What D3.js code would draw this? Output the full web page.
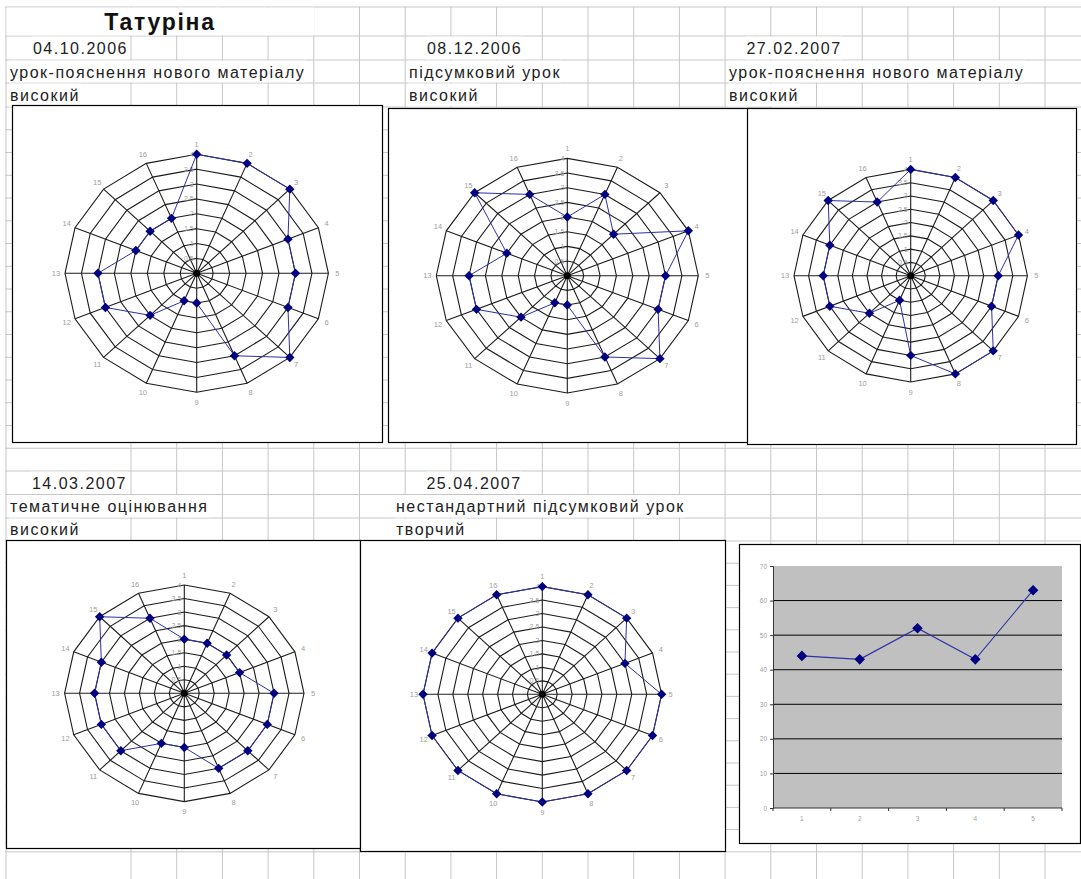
<!DOCTYPE html>
<html>
<head>
<meta charset="utf-8">
<script src="https://cdn.jsdelivr.net/npm/d3@7"></script>
<style>
  body { margin: 0; background: #fff; }
  svg { display: block; font-family: "Liberation Sans", Arial, sans-serif; }
</style>
</head>
<body>
<svg id="sheet" width="1081" height="879"></svg>
<script>
// ---- data ----
let pupil = "Татуріна";
let lessonDates = ["04.10.2006", "08.12.2006", "27.02.2007", "14.03.2007", "25.04.2007"];
let lessonTypes = ["урок-пояснення нового матеріалу", "підсумковий урок", "урок-пояснення нового матеріалу", "тематичне оцінювання", "нестандартний підсумковий урок"];
let lessonLevels = ["високий", "високий", "високий", "високий", "творчий"];

let criteria = [1, 2, 3, 4, 5, 6, 7, 8, 9, 10, 11, 12, 13, 14, 15, 16];
let radarTicks = [0.5, 1, 1.5, 2, 2.5, 3, 3.5, 4];

let scores1 = [4, 4, 4, 3, 3, 3, 4, 3, 1, 1, 2, 3, 3, 2, 2, 2];
let scores2 = [2, 3, 2, 4, 3, 3, 4, 3, 1, 1, 2, 3, 3, 2, 4, 3];
let scores3 = [4, 4, 4, 4, 3, 3, 4, 4, 3, 1, 2, 3, 3, 3, 4, 3];
let scores4 = [2, 2, 2, 2, 3, 3, 3, 3, 2, 2, 3, 3, 3, 3, 4, 3];
let scores5 = [4, 4, 4, 3, 4, 4, 4, 4, 4, 4, 4, 4, 4, 4, 4, 4];

let totalLabels = [1, 2, 3, 4, 5];
let totals = [44, 43, 52, 43, 63];
let totalTicks = [0, 10, 20, 30, 40, 50, 60, 70];

// ---- layout ----
let svg = d3.select('#sheet');
let gridColor = '#c6c6c6';

let colLines = [6, 131].concat(d3.range(1, 22).map(k => 131 + k * 45.7));
let rowLines = [7, 36, 60, 83, 107]
    .concat(d3.range(1, 16).map(k => 107 + k * 22.75))
    .concat([471, 494.5, 518, 541])
    .concat(d3.range(1, 15).map(k => 541 + k * 22.2));

let headerRows = [
    { dateY: 53.5, typeY: 77.5, levelY: 100.5, top: [36, 60, 83], bottom: [60, 83, 107] },
    { dateY: 488.5, typeY: 511.5, levelY: 534.5, top: [471, 494.5, 518], bottom: [494.5, 518, 541] }
];
let headerPlaces = [
    { row: 0, dateX: 128, dateAnchor: 'end', textX: 10 },
    { row: 0, dateX: 474.5, dateAnchor: 'middle', textX: 409 },
    { row: 0, dateX: 794, dateAnchor: 'middle', textX: 729 },
    { row: 1, dateX: 127, dateAnchor: 'end', textX: 10 },
    { row: 1, dateX: 474, dateAnchor: 'middle', textX: 396 }
];

let radarFrames = [
    { x0: 12, y0: 105, x1: 382, y1: 442, cx: 196.7, cy: 273.3, rx: 131.7, ry: 119 },
    { x0: 388, y0: 108, x1: 770, y1: 442, cx: 567.3, cy: 275.7, rx: 131, ry: 117.3 },
    { x0: 747, y0: 108, x1: 1076, y1: 444, cx: 910.7, cy: 275.7, rx: 116.7, ry: 106.3 },
    { x0: 6, y0: 540, x1: 360, y1: 848, cx: 184.3, cy: 693.3, rx: 119.7, ry: 108.3 },
    { x0: 360, y0: 540, x1: 725, y1: 851, cx: 542.3, cy: 694.3, rx: 119.3, ry: 107.7 }
];
let lineFrame = { x0: 739, y0: 544, x1: 1080, y1: 843, left: 773, right: 1062, top: 566, bottom: 808 };

// ---- spreadsheet grid ----
let drawGrid = () => {
    let grid = svg.append('g');
    grid.selectAll('line.v')
        .data(colLines)
        .enter()
        .append('line')
        .attr('x1', d => d).attr('x2', d => d)
        .attr('y1', 7).attr('y2', 879)
        .attr('stroke', gridColor);
    grid.selectAll('line.h')
        .data(rowLines)
        .enter()
        .append('line')
        .attr('x1', 5).attr('x2', 1081)
        .attr('y1', d => d).attr('y2', d => d)
        .attr('stroke', gridColor);
};

let textStyle = (sel) => sel
    .style('font-size', '16px')
    .style('letter-spacing', '1.5px')
    .attr('fill', '#222');

// white patch behind overflowing text, hides the cell borders like Excel does
let clearBehind = (textNode, top, bottom) => {
    let box = textNode.node().getBBox();
    svg.insert('rect', () => textNode.node())
        .attr('x', box.x - 1)
        .attr('y', top + 0.6)
        .attr('width', box.width + 2)
        .attr('height', bottom - top - 1.2)
        .attr('fill', '#fff');
};

let drawHeaders = () => {
    svg.append('rect')
        .attr('x', 6.6).attr('y', 7.6).attr('width', 308).attr('height', 27.8)
        .attr('fill', '#fff');
    svg.append('text')
        .text(pupil)
        .attr('x', 160).attr('y', 30)
        .attr('text-anchor', 'middle')
        .style('font-size', '23px')
        .style('font-weight', 'bold')
        .style('letter-spacing', '1.7px')
        .attr('fill', '#111');

    headerPlaces.forEach((place, i) => {
        let row = headerRows[place.row];
        let date = svg.append('text')
            .text(lessonDates[i])
            .attr('x', place.dateX).attr('y', row.dateY)
            .attr('text-anchor', place.dateAnchor);
        textStyle(date);
        clearBehind(date, row.top[0], row.bottom[0]);

        let type = svg.append('text')
            .text(lessonTypes[i])
            .attr('x', place.textX).attr('y', row.typeY);
        textStyle(type);
        clearBehind(type, row.top[1], row.bottom[1]);

        let level = svg.append('text')
            .text(lessonLevels[i])
            .attr('x', place.textX).attr('y', row.levelY);
        textStyle(level);
        clearBehind(level, row.top[2], row.bottom[2]);
    });
};

// ---- radar charts ----
let drawRadar = (frame, scores) => {
    let g = svg.append('g');

    g.append('rect')
        .attr('x', frame.x0 + 0.5).attr('y', frame.y0 + 0.5)
        .attr('width', frame.x1 - frame.x0).attr('height', frame.y1 - frame.y0)
        .attr('fill', '#fff')
        .attr('stroke', '#000')
        .attr('stroke-width', 1.2);

    let rScaleX = d3.scaleLinear().domain([0, 4]).range([0, frame.rx]);
    let rScaleY = d3.scaleLinear().domain([0, 4]).range([0, frame.ry]);
    let angle = d3.scaleLinear().domain([0, criteria.length]).range([0, 2 * Math.PI]);

    let px = (i, v) => frame.cx + rScaleX(v) * Math.sin(angle(i));
    let py = (i, v) => frame.cy - rScaleY(v) * Math.cos(angle(i));

    let ring = d3.line()
        .x(d => d[0]).y(d => d[1])
        .curve(d3.curveLinearClosed);

    g.selectAll('path.ring')
        .data(radarTicks)
        .enter()
        .append('path')
        .attr('d', t => ring(criteria.map((c, i) => [px(i, t), py(i, t)])))
        .attr('fill', 'none')
        .attr('stroke', '#1c1c1c')
        .attr('stroke-width', 1.1);

    g.selectAll('line.spoke')
        .data(criteria)
        .enter()
        .append('line')
        .attr('x1', frame.cx).attr('y1', frame.cy)
        .attr('x2', (c, i) => px(i, 4))
        .attr('y2', (c, i) => py(i, 4))
        .attr('stroke', '#1c1c1c')
        .attr('stroke-width', 1.1);

    g.append('circle')
        .attr('cx', frame.cx).attr('cy', frame.cy).attr('r', 3.5)
        .attr('fill', '#000');

    g.selectAll('text.tick')
        .data(radarTicks)
        .enter()
        .append('text')
        .text(t => t)
        .attr('x', frame.cx - 3)
        .attr('y', t => py(0, t) + 2.5)
        .attr('text-anchor', 'end')
        .style('font-size', '7px')
        .attr('fill', '#a0a0a0');

    let labelX = d3.scaleLinear().domain([0, 4]).range([0, frame.rx + 9]);
    let labelY = d3.scaleLinear().domain([0, 4]).range([0, frame.ry + 10]);
    g.selectAll('text.axis')
        .data(criteria)
        .enter()
        .append('text')
        .text(c => c)
        .attr('x', (c, i) => frame.cx + labelX(4) * Math.sin(angle(i)))
        .attr('y', (c, i) => frame.cy - labelY(4) * Math.cos(angle(i)) + 2.5)
        .attr('text-anchor', 'middle')
        .style('font-size', '7.5px')
        .attr('fill', '#a0a0a0');

    g.append('path')
        .attr('d', ring(scores.map((v, i) => [px(i, v), py(i, v)])))
        .attr('fill', 'none')
        .attr('stroke', '#2f2fa6')
        .attr('stroke-width', 1);

    g.selectAll('path.marker')
        .data(scores)
        .enter()
        .append('path')
        .attr('d', d3.symbol(d3.symbolSquare, 44))
        .attr('transform', (v, i) => `translate(${px(i, v)},${py(i, v)}) rotate(45)`)
        .attr('fill', '#000080');
};

// ---- totals line chart ----
let drawTotals = () => {
    let f = lineFrame;
    let g = svg.append('g');

    g.append('rect')
        .attr('x', f.x0 + 0.5).attr('y', f.y0 + 0.5)
        .attr('width', f.x1 - f.x0).attr('height', f.y1 - f.y0)
        .attr('fill', '#fff')
        .attr('stroke', '#000')
        .attr('stroke-width', 1.2);

    let x = d3.scaleBand().domain(totalLabels).range([f.left, f.right]);
    let y = d3.scaleLinear().domain([0, 70]).range([f.bottom, f.top]);

    g.append('rect')
        .attr('x', f.left).attr('y', f.top)
        .attr('width', f.right - f.left).attr('height', f.bottom - f.top)
        .attr('fill', '#c0c0c0');

    g.selectAll('line.grid')
        .data(totalTicks.slice(1, -1))
        .enter()
        .append('line')
        .attr('x1', f.left).attr('x2', f.right)
        .attr('y1', d => y(d)).attr('y2', d => y(d))
        .attr('stroke', '#000')
        .attr('stroke-width', 1);

    let yAxis = g.append('g')
        .attr('transform', `translate(${f.left},0)`)
        .call(d3.axisLeft(y).tickValues(totalTicks).tickSize(3).tickPadding(3));
    yAxis.select('.domain').attr('stroke', '#333');
    yAxis.selectAll('.tick line').attr('stroke', '#333');
    yAxis.selectAll('text').style('font-size', '6.5px').attr('fill', '#a0a0a0')
        .style('font-family', '"Liberation Sans", Arial, sans-serif');

    g.append('line')
        .attr('x1', f.left).attr('x2', f.right)
        .attr('y1', y(0)).attr('y2', y(0))
        .attr('stroke', '#333');

    g.selectAll('line.xtick')
        .data(totalLabels.concat(['end']))
        .enter()
        .append('line')
        .attr('x1', (d, i) => f.left + i * x.step())
        .attr('x2', (d, i) => f.left + i * x.step())
        .attr('y1', y(0)).attr('y2', y(0) + 3)
        .attr('stroke', '#333');

    g.selectAll('text.xlabel')
        .data(totalLabels)
        .enter()
        .append('text')
        .text(d => d)
        .attr('x', d => x(d) + x.bandwidth() / 2)
        .attr('y', y(0) + 13)
        .attr('text-anchor', 'middle')
        .style('font-size', '6.5px')
        .attr('fill', '#a0a0a0');

    let line = d3.line()
        .x((v, i) => x(totalLabels[i]) + x.bandwidth() / 2)
        .y(v => y(v));

    g.append('path')
        .attr('d', line(totals))
        .attr('fill', 'none')
        .attr('stroke', '#2f2fa6')
        .attr('stroke-width', 1.1);

    g.selectAll('path.marker')
        .data(totals)
        .enter()
        .append('path')
        .attr('d', d3.symbol(d3.symbolSquare, 56))
        .attr('transform', (v, i) => `translate(${x(totalLabels[i]) + x.bandwidth() / 2},${y(v)}) rotate(45)`)
        .attr('fill', '#000080');
};

drawGrid();
drawHeaders();
let allScores = [scores1, scores2, scores3, scores4, scores5];
radarFrames.forEach((frame, i) => drawRadar(frame, allScores[i]));
drawTotals();
</script>
</body>
</html>
